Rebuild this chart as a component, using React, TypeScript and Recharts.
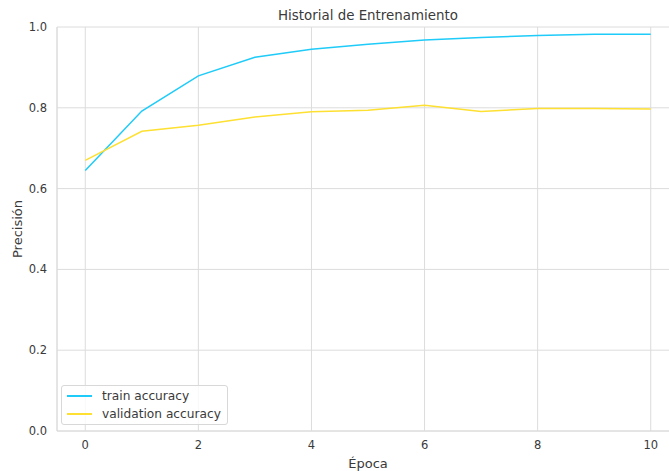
import { LineChart, Line, XAxis, YAxis, CartesianGrid, Legend } from 'recharts';

const epochs = [0, 1, 2, 3, 4, 5, 6, 7, 8, 9, 10];
const trainAccuracy = [0.645, 0.792, 0.879, 0.925, 0.945, 0.957, 0.968, 0.974, 0.979, 0.982, 0.982];
const valAccuracy = [0.67, 0.742, 0.757, 0.777, 0.79, 0.794, 0.806, 0.791, 0.798, 0.798, 0.797];
const xTicks = [0, 2, 4, 6, 8, 10];
const yTicks = [0, 0.2, 0.4, 0.6, 0.8, 1.0];

const TRAIN_COLOR = '#1fcbf8';
const VAL_COLOR = '#fde031';
const GRID = '#dcdcdc';
const TEXT = '#3a3a3a';
const FONT = '"DejaVu Sans", sans-serif';

const data = epochs.map((e, i) => ({
  epoch: e,
  train: trainAccuracy[i],
  val: valAccuracy[i],
}));

function LegendBox() {
  const items = [
    { label: 'train accuracy', color: TRAIN_COLOR },
    { label: 'validation accuracy', color: VAL_COLOR },
  ];
  return (
    <div
      style={{
        width: 167,
        height: 40,
        boxSizing: 'border-box',
        border: '1px solid #d8d8d8',
        borderRadius: 3,
        background: 'rgba(255,255,255,0.8)',
        padding: '1px 0 0 5px',
        fontFamily: FONT,
        fontSize: 12.2,
        color: TEXT,
      }}
    >
      {items.map((it) => (
        <div key={it.label} style={{ display: 'flex', alignItems: 'center', height: 18 }}>
          <span style={{ display: 'inline-block', width: 25, height: 2, background: it.color, marginRight: 10 }} />
          <span>{it.label}</span>
        </div>
      ))}
    </div>
  );
}

export default function App() {
  return (
    <div style={{ position: 'absolute', left: 0, top: 0, width: 669, height: 471, overflow: 'hidden', background: '#fff' }}>
      <div
        style={{
          position: 'absolute',
          left: 57,
          width: 622,
          top: 8,
          textAlign: 'center',
          fontFamily: FONT,
          fontSize: 13.4,
          color: TEXT,
        }}
      >
        Historial de Entrenamiento
      </div>
      <LineChart
        width={700}
        height={471}
        data={data}
        margin={{ top: 27, right: 21, bottom: 0, left: 0 }}
        style={{ fontFamily: FONT }}
      >
        <CartesianGrid stroke={GRID} strokeWidth={1} />
        <XAxis
          dataKey="epoch"
          type="number"
          domain={[-0.5, 10.5]}
          ticks={xTicks}
          height={40}
          axisLine={{ stroke: GRID }}
          tickLine={false}
          tickSize={6}
          tickMargin={4}
          tick={{ fill: TEXT, fontSize: 11.5 }}
          label={{ value: 'Época', position: 'insideBottom', offset: 3, fill: TEXT, fontSize: 13 }}
        />
        <YAxis
          type="number"
          domain={[0, 1]}
          ticks={yTicks}
          width={57}
          axisLine={{ stroke: GRID }}
          tickLine={false}
          tickSize={6}
          tickMargin={4}
          tickFormatter={(v: number) => v.toFixed(1)}
          tick={{ fill: TEXT, fontSize: 11.5 }}
          label={{ value: 'Precisión', angle: -90, position: 'insideLeft', offset: 17, fill: TEXT, fontSize: 13, style: { textAnchor: 'middle' } }}
        />
        <Legend
          layout="vertical"
          align="center"
          verticalAlign="middle"
          wrapperStyle={{ left: 61, top: 385, width: 167 }}
          content={() => <LegendBox />}
        />
        <Line dataKey="train" stroke={TRAIN_COLOR} strokeWidth={1.5} dot={false} isAnimationActive={false} />
        <Line dataKey="val" stroke={VAL_COLOR} strokeWidth={1.5} dot={false} isAnimationActive={false} />
      </LineChart>
    </div>
  );
}
